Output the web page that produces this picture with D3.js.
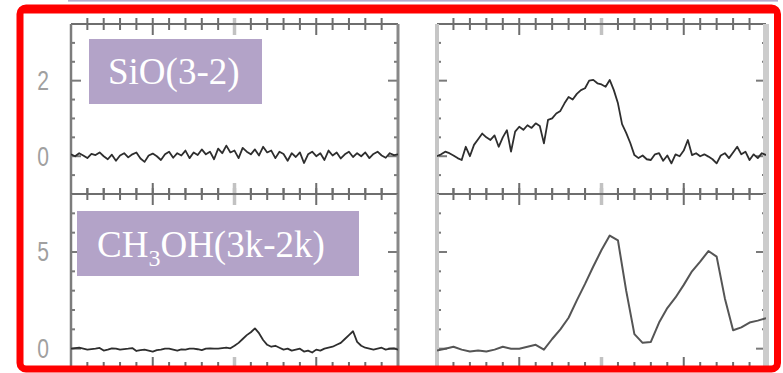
<!DOCTYPE html>
<html>
<head>
<meta charset="utf-8">
<script src="https://cdn.jsdelivr.net/npm/d3@7"></script>
<style>
  body { margin: 0; background: #fff; }
  svg { display: block; }
</style>
</head>
<body>
<div id="chart"></div>
<script>
// Channel velocities (km/s) for the spectra
const velocity = d3.range(-20, 20.001, 0.5);
const velocityCoarse = d3.range(-20, 20.001, 1);

// SiO(3-2), left position: noise only
const sioLeft = [
  0.05, 0.00, 0.08, 0.02, -0.05, 0.06, 0.03, 0.10, 0.00, -0.08,
  0.04, -0.12, 0.02, 0.08, -0.03, 0.05, 0.10, -0.06, -0.15, 0.02,
  0.07, 0.00, -0.10, 0.05, 0.12, -0.04, 0.08, 0.02, 0.15, -0.05,
  0.10, 0.03, 0.18, 0.05, 0.12, -0.08, 0.20, 0.08, 0.28, 0.10,
  0.15, -0.05, 0.22, 0.12, 0.05, 0.18, 0.02, 0.25, 0.10, 0.15,
  -0.05, 0.12, 0.06, -0.12, 0.08, -0.02, 0.10, -0.18, 0.05, 0.12,
  0.00, 0.08, -0.10, 0.15, 0.02, 0.10, -0.06, 0.05, 0.12, -0.02,
  0.08, 0.00, 0.10, -0.05, 0.06, 0.12, 0.02, -0.04, 0.08, 0.03,
  0.05
];

// SiO(3-2), right position: broad wing
const sioRight = [
  0.00, 0.05, 0.12, 0.08, 0.02, -0.05, -0.10, 0.25, 0.00, 0.30,
  0.45, 0.60, 0.50, 0.43, 0.55, 0.25, 0.50, 0.69, 0.12, 0.65,
  0.78, 0.70, 0.82, 0.75, 0.87, 0.80, 0.34, 0.96, 1.00, 1.13,
  1.20, 1.40, 1.57, 1.50, 1.65, 1.75, 1.80, 2.00, 2.02, 1.93,
  1.90, 1.84, 2.02, 1.75, 1.40, 0.85, 0.62, 0.35, 0.03, -0.05,
  0.02, -0.08, -0.10, 0.05, 0.08, -0.12, 0.02, -0.19, 0.05, 0.00,
  0.15, 0.43, 0.03, 0.08, 0.00, 0.05, -0.01, -0.08, -0.19, 0.02,
  0.08, -0.05, 0.10, 0.25, 0.05, 0.12, -0.10, 0.05, -0.05, 0.08,
  0.03
];

// CH3OH(3k-2k), left position: two weak lines
const methanolLeft = [
  0.00, 0.03, 0.05, 0.00, -0.05, -0.02, 0.00, 0.04, -0.10, -0.05,
  0.02, 0.00, -0.05, -0.02, 0.00, 0.03, -0.12, -0.08, -0.05, -0.10,
  -0.15, -0.08, -0.05, 0.00, 0.00, -0.05, -0.10, -0.04, -0.05, 0.00,
  0.00, -0.03, -0.08, 0.00, 0.02, 0.00, 0.00, 0.03, 0.05, 0.02,
  0.15, 0.30, 0.50, 0.70, 0.85, 1.05, 0.80, 0.45, 0.20, 0.10,
  0.15, 0.05, -0.05, 0.00, -0.10, -0.05, 0.00, -0.15, -0.10, -0.20,
  -0.05, -0.10, 0.00, 0.05, 0.10, 0.20, 0.30, 0.50, 0.70, 0.90,
  0.35, 0.15, 0.05, 0.00, -0.05, 0.00, 0.05, -0.05, 0.00, 0.02,
  -0.05
];

// CH3OH(3k-2k), right position: strong lines
const methanolRight = [
  -0.10, 0.00, 0.10, -0.05, -0.15, -0.10, -0.15, -0.05, 0.10, 0.00,
  0.00, 0.10, 0.20, -0.05, 0.50, 1.00, 1.60, 2.50, 3.35, 4.25,
  5.10, 5.85, 5.60, 3.00, 0.75, 0.30, 0.35, 1.35, 2.10, 2.65,
  3.30, 4.00, 4.50, 5.05, 4.76, 2.60, 0.95, 1.10, 1.35, 1.45,
  1.58
];

// Axis ticks and labels
const xMajorTicks = [-10, 0, 10];
const xMinorTicks = [-18, -16, -14, -12, -8, -6, -4, -2, 2, 4, 6, 8, 12, 14, 16, 18];
const topYMajor = [0, 2];
const topYMinor = [-0.5, 0.5, 1, 1.5, 2.5, 3];
const bottomYMajor = [0, 5];
const bottomYMinor = [1, 2, 3, 4, 6, 7];
const topYLabels = ['0', '2'];
const bottomYLabels = ['0', '5'];

const width = 783, height = 373;
const svg = d3.select('#chart').append('svg')
  .attr('width', width)
  .attr('height', height);

svg.append('rect')
  .attr('width', width).attr('height', height)
  .attr('fill', '#fff');

// thin lavender strip from the slide above
svg.append('rect')
  .attr('x', 68).attr('y', 0)
  .attr('width', 710).attr('height', 1.6)
  .attr('fill', '#b6a9cc');

const cols = [{ x0: 71, x1: 398, side: 'left' }, { x0: 437, x1: 766, side: 'right' }];
const rows = [
  { y0: 24, y1: 194, domain: [-1, 3.5], major: topYMajor, minor: topYMinor, labels: topYLabels, row: 'top' },
  { y0: 194, y1: 368, domain: [-1, 8], major: bottomYMajor, minor: bottomYMinor, labels: bottomYLabels, row: 'bottom' }
];
const series = {
  'top-left': { x: velocity, y: sioLeft },
  'top-right': { x: velocity, y: sioRight },
  'bottom-left': { x: velocity, y: methanolLeft },
  'bottom-right': { x: velocityCoarse, y: methanolRight }
};

rows.forEach((r, ri) => {
  cols.forEach((c, ci) => {
    const x = d3.scaleLinear().domain([-20, 20]).range([c.x0, c.x1]);
    const y = d3.scaleLinear().domain(r.domain).range([r.y1, r.y0]);
    const g = svg.append('g');
    const id = 'clip-' + ri + '-' + ci;

    g.append('clipPath').attr('id', id)
      .append('rect')
      .attr('x', c.x0).attr('y', r.y0)
      .attr('width', c.x1 - c.x0).attr('height', r.y1 - r.y0);

    // x ticks on top and bottom edges
    const xTick = (v, edge) => {
      const zero = v === 0;
      const major = xMajorTicks.includes(v);
      const inLen = major ? 11 : 6;
      const outLen = (edge === 'top') ? 6 : 0;
      const yy = edge === 'top' ? r.y0 : r.y1;
      const dir = edge === 'top' ? 1 : -1;
      g.append('line')
        .attr('x1', x(v)).attr('x2', x(v))
        .attr('y1', yy - dir * outLen)
        .attr('y2', yy + dir * inLen)
        .attr('stroke', zero ? '#c2c2c2' : '#6e6e6e')
        .attr('stroke-width', zero ? 3.5 : 2);
    };
    xMajorTicks.concat(xMinorTicks).forEach(v => {
      xTick(v, 'top');
      xTick(v, 'bottom');
    });

    // y ticks on left and right edges
    const yTick = (v, major) => {
      const len = major ? 10 : 4;
      g.append('line')
        .attr('x1', c.x0 - 1).attr('x2', c.x0 + len)
        .attr('y1', y(v)).attr('y2', y(v))
        .attr('stroke', '#7a7a7a').attr('stroke-width', 2);
      g.append('line')
        .attr('x1', c.x1 + 1).attr('x2', c.x1 - len)
        .attr('y1', y(v)).attr('y2', y(v))
        .attr('stroke', '#7a7a7a').attr('stroke-width', 2);
    };
    r.major.forEach(v => yTick(v, true));
    r.minor.forEach(v => yTick(v, false));

    // frame
    g.append('line')
      .attr('x1', c.x0).attr('x2', c.x1)
      .attr('y1', r.y0).attr('y2', r.y0)
      .attr('stroke', '#6e6e6e').attr('stroke-width', 2.2);
    g.append('line')
      .attr('x1', c.x0).attr('x2', c.x1)
      .attr('y1', r.y1).attr('y2', r.y1)
      .attr('stroke', '#6e6e6e').attr('stroke-width', 2.2);
    g.append('line')
      .attr('x1', c.x0).attr('x2', c.x0)
      .attr('y1', r.y0).attr('y2', r.y1)
      .attr('stroke', c.side === 'left' ? '#7c7c7c' : '#c6c6c6')
      .attr('stroke-width', c.side === 'left' ? 2.5 : 4);
    g.append('line')
      .attr('x1', c.x1).attr('x2', c.x1)
      .attr('y1', r.y0).attr('y2', r.y1)
      .attr('stroke', c.side === 'left' ? '#888' : '#cccccc')
      .attr('stroke-width', c.side === 'left' ? 3 : 6);

    // spectrum
    const s = series[r.row + '-' + c.side];
    const smooth = r.row === 'bottom' && c.side === 'right';
    const line = d3.line()
      .x((d, i) => x(s.x[i]))
      .y(d => y(d));
    g.append('path')
      .datum(s.y)
      .attr('clip-path', 'url(#' + id + ')')
      .attr('d', line)
      .attr('fill', 'none')
      .attr('stroke', smooth ? '#555' : '#2e2e2e')
      .attr('stroke-width', smooth ? 2 : 1.8)
      .attr('stroke-linejoin', 'round');

    // y tick labels, only on the left column
    if (c.side === 'left') {
      r.major.forEach((v, i) => {
        g.append('text')
          .attr('transform', 'translate(43,' + y(v) + ') scale(0.78,1)')
          .attr('text-anchor', 'middle')
          .attr('dominant-baseline', 'central')
          .style('font-family', 'Liberation Sans, Arial, sans-serif')
          .style('font-size', '27px')
          .style('fill', '#a0a0a0')
          .text(r.labels[i]);
      });
    }
  });
});

// line labels
svg.append('rect')
  .attr('x', 89).attr('y', 39)
  .attr('width', 173).attr('height', 65)
  .attr('fill', '#b3a3c8');
svg.append('text')
  .attr('x', 108).attr('y', 84)
  .style('font-family', 'Liberation Serif, Times New Roman, serif')
  .style('font-size', '37px')
  .style('fill', '#fff')
  .text('SiO(3-2)');

svg.append('rect')
  .attr('x', 77).attr('y', 211)
  .attr('width', 282).attr('height', 65)
  .attr('fill', '#b3a3c8');
const ch3oh = svg.append('text')
  .attr('x', 97).attr('y', 257)
  .style('font-family', 'Liberation Serif, Times New Roman, serif')
  .style('font-size', '37px')
  .style('fill', '#fff');
ch3oh.append('tspan').text('CH');
ch3oh.append('tspan').attr('dy', 9).style('font-size', '24px').text('3');
ch3oh.append('tspan').attr('dy', -9).text('OH(3k-2k)');

// red frame
svg.append('rect')
  .attr('x', 20).attr('y', 8)
  .attr('width', 757.5).attr('height', 361)
  .attr('rx', 6)
  .attr('fill', 'none')
  .attr('stroke', '#ff0000')
  .attr('stroke-width', 7);
svg.append('rect')
  .attr('x', 22).attr('y', 8)
  .attr('width', 753).attr('height', 5.5)
  .attr('fill', '#ff0000');
</script>
</body>
</html>
